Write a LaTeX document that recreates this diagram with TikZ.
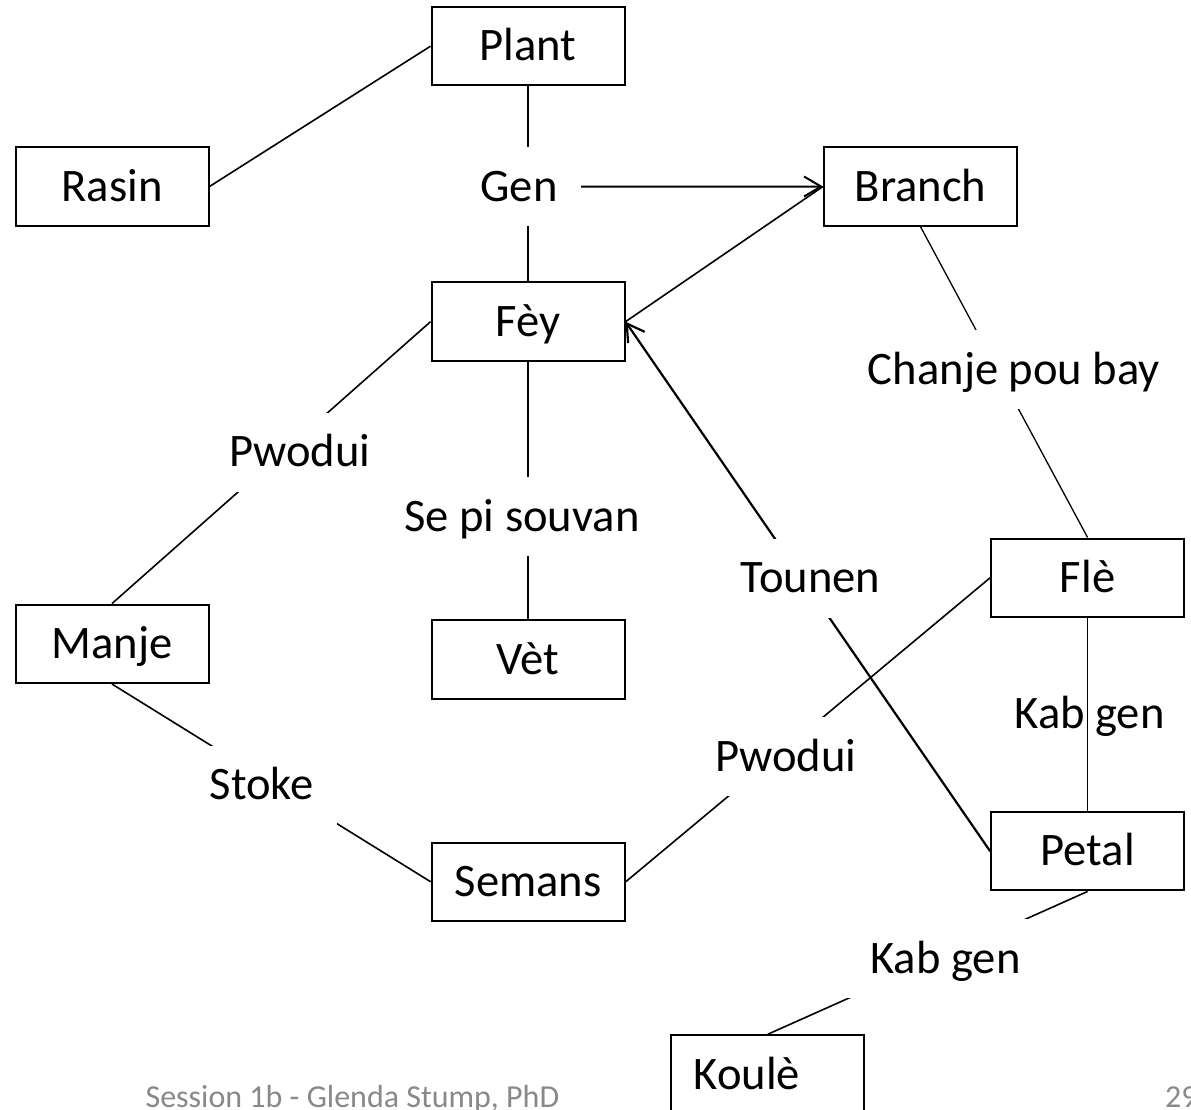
\documentclass[tikz,border=0pt]{standalone}
\usepackage{fontspec}
\setmainfont{Carlito}
\usetikzlibrary{arrows.meta,backgrounds}
\definecolor{footgray}{RGB}{137,137,137}
\begin{document}
\begin{tikzpicture}[x=1pt,y=-1pt,
  concept/.style={draw=black, line width=2pt, minimum width=193pt, minimum height=78.5pt,
    inner sep=0pt, font=\fontsize{46.6pt}{56pt}\selectfont, text height=29.5pt, text depth=0pt},
  linkph/.style={fill=white, minimum height=79pt, inner xsep=23pt, inner ysep=0pt,
    font=\fontsize{46.6pt}{56pt}\selectfont, text height=29.5pt, text depth=0pt},
  conn/.style={line width=1.6pt},
  arrowhd/.style={-{Straight Barb[length=17pt,width=20pt]}},
  footer/.style={text=footgray, font=\fontsize{32pt}{38pt}\selectfont, inner sep=0pt, anchor=base west}
]
\useasboundingbox (0,0) rectangle (1191,1110);

% concepts
\node[concept] (plant)  at (528,46.2)    {Plant};
\node[concept] (rasin)  at (112,186.5)   {Rasin};
\node[concept] (branch) at (920.5,186.5) {Branch};
\node[concept] (fey)    at (528,321.7)   {Fèy};
\node[concept] (manje)  at (112,643.8)   {Manje};
\node[concept] (vet)    at (528,659.7)   {Vèt};
\node[concept] (fle)    at (1087.6,577.8){Flè};
\node[concept] (petal)  at (1087.6,851.2){Petal};
\node[concept] (semans) at (528.2,881.8) {Semans};
\node[concept] (koule)  at (767.8,1074.5){Koulè\hspace*{42pt}};

% linking phrases
\node[linkph] (gen)    at (519,186.7)   {Gen};
\node[linkph] (chanje) at (1014,369.7)  {Chanje pou bay};
\node[linkph] (pwodl)  at (300,452)     {Pwodui};
\node[linkph] (sepi)   at (522,516.3)   {Se pi souvan};
\node[linkph] (tounen) at (810.5,578)   {Tounen};
\node[linkph] (pwodr)  at (786,756.3)   {Pwodui};
\node[linkph] (stoke)  at (261.8,785)   {Stoke};
\node[linkph, fill=none] (kab1) at (1089.5,713.3) {Kab gen};
\node[linkph] (kab2)   at (945.4,958.8) {Kab gen};

% footer
\node[footer] (foot)    at (145.4,1107) {Session 1b - Glenda Stump, PhD};
\node[footer] (pagenum) at (1165,1107)  {29};

% connectors
\begin{pgfonlayer}{background}
\fill[white] (0,0) rectangle (1191,1110);
\draw[conn] (rasin.east) -- (plant.west);
\draw[conn] (plant.south) -- (fey.north);
\draw[conn, line width=1.3pt] (branch.south) -- (fle.north);
\draw[conn] (fey.west) -- (manje.north);
\draw[conn] (fey.south) -- (vet.north);
\draw[conn, line width=2.2pt, arrowhd] (petal.west) -- (fey.east);
\draw[conn] (semans.east) -- (fle.west);
\draw[conn] (manje.south) -- (semans.west);
\draw[conn] (fle.south) -- (petal.north);
\draw[conn] (petal.south) -- (koule.north);
\draw[conn] (branch.west) -- (fey.east);
\draw[conn, line width=2pt, arrowhd] (gen.east) -- (branch.west);
\end{pgfonlayer}
\end{tikzpicture}
\end{document}
